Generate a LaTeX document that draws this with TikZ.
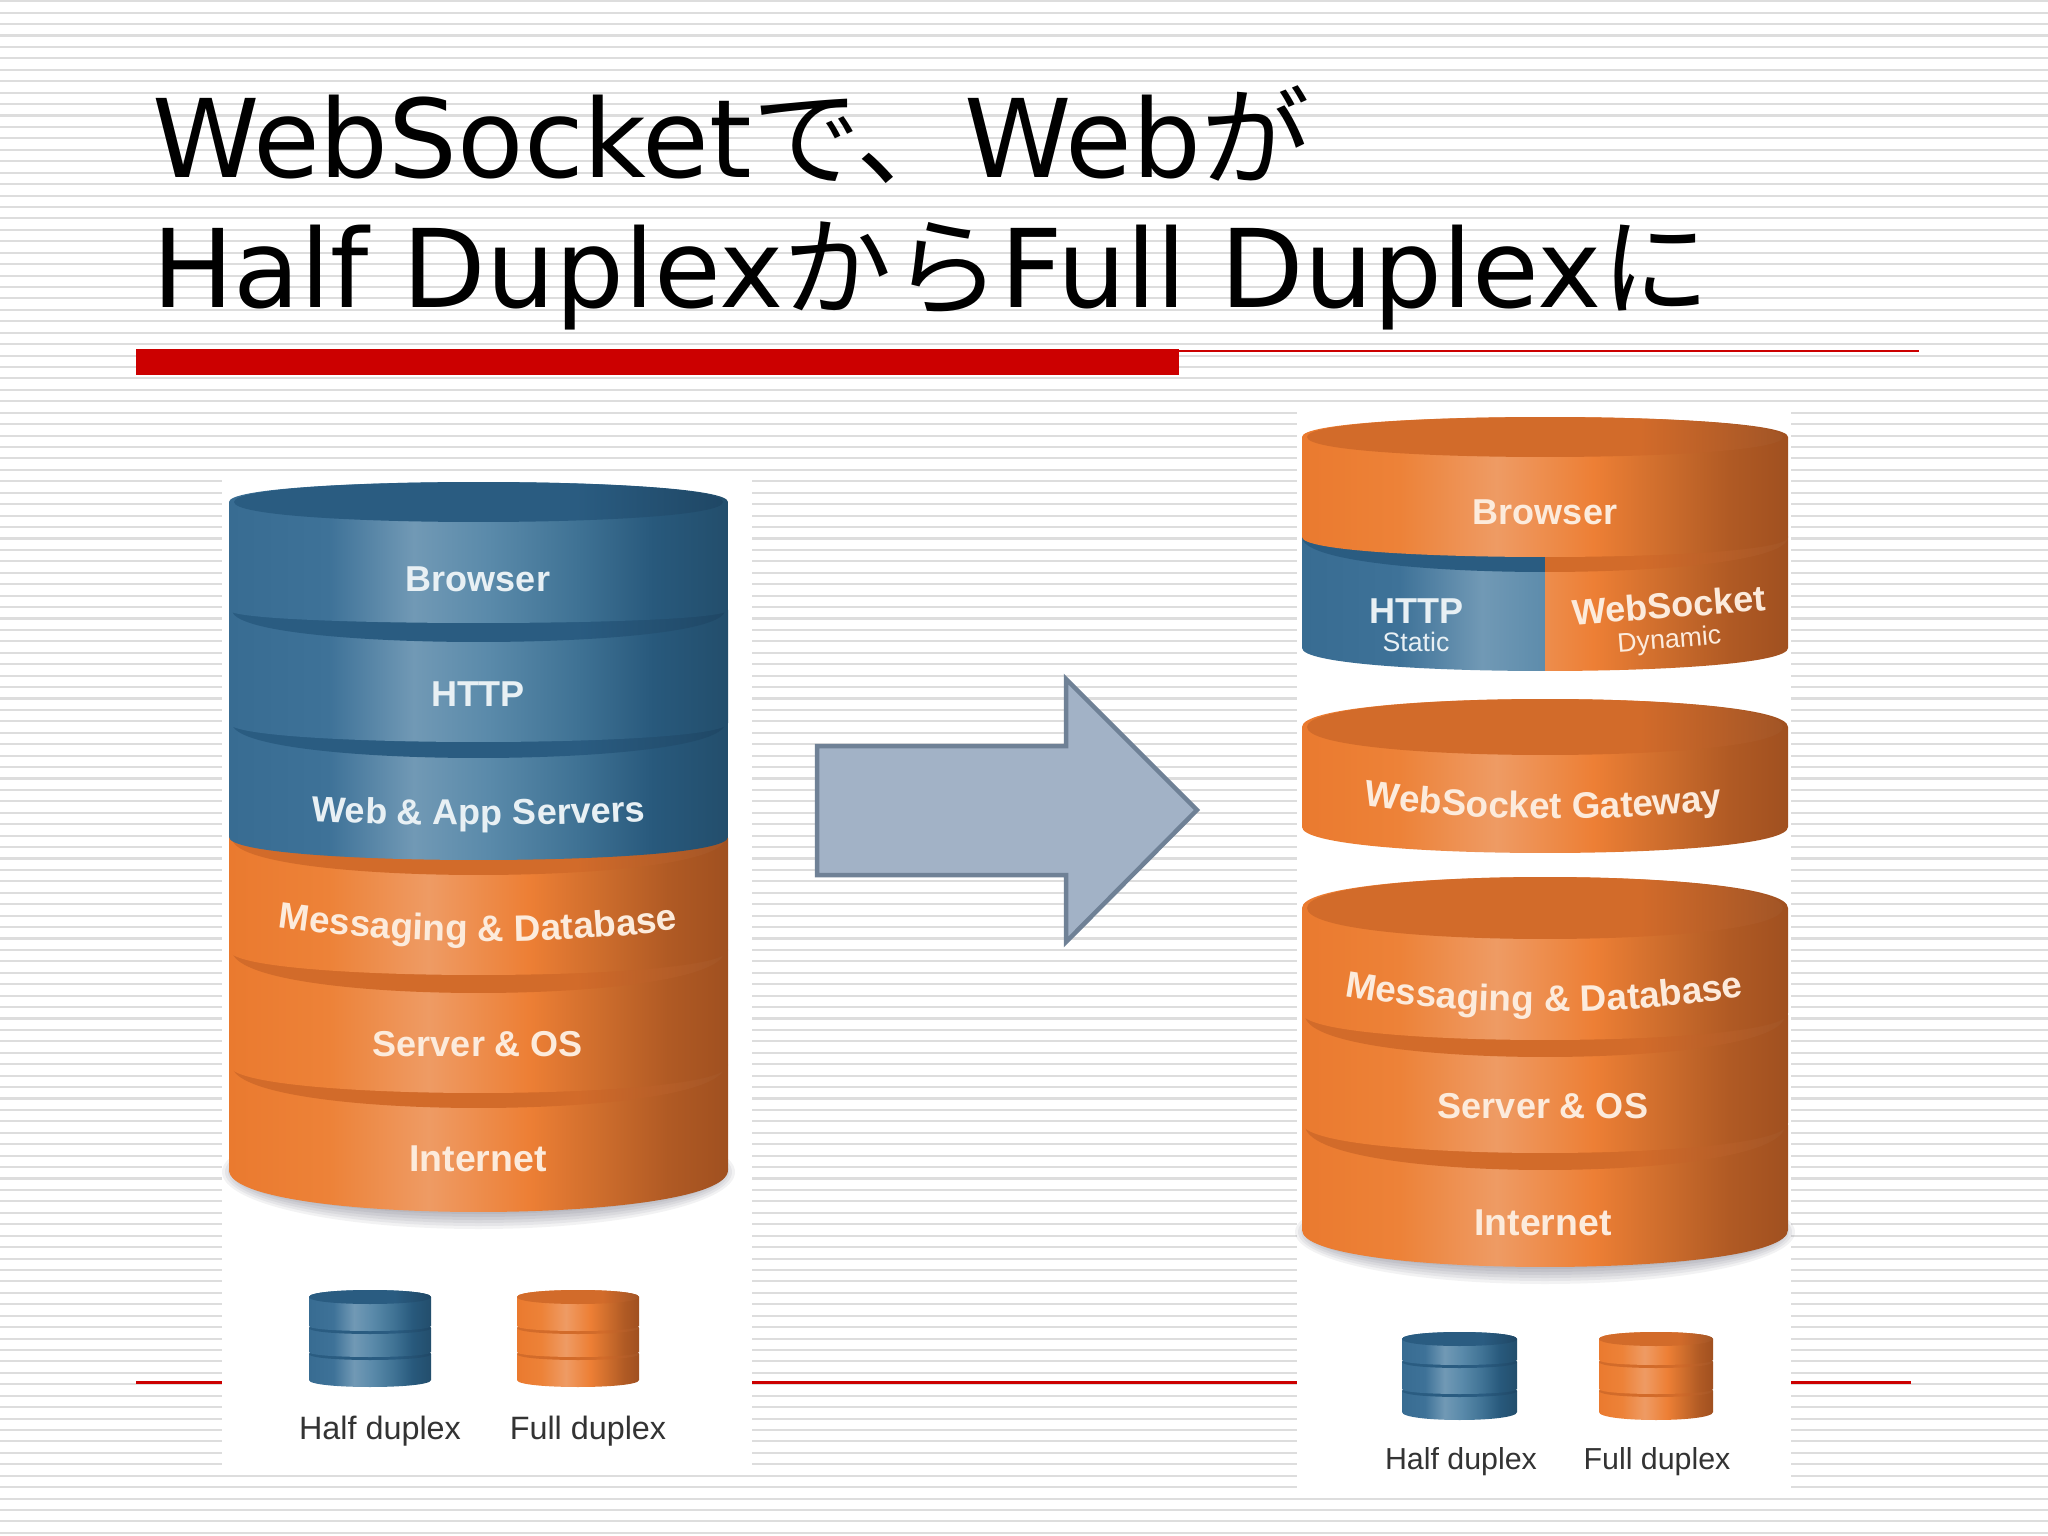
\documentclass[tikz,border=0pt]{standalone}
\usepackage{fontspec}
\setmainfont{DejaVu Sans}
\newfontfamily\cjk{Noto Sans CJK JP}
\newfontfamily\lib{Liberation Sans}
\usetikzlibrary{decorations.text}
\definecolor{stripe}{HTML}{DDDDDD}
\definecolor{redbar}{HTML}{CC0000}
\definecolor{arrowfill}{HTML}{A2B2C6}
\definecolor{arrowline}{HTML}{6F8196}
\definecolor{txtB}{HTML}{E8F0F4}
\definecolor{txtO}{HTML}{FCEBDC}
\definecolor{b0}{HTML}{386C92}\definecolor{b1}{HTML}{3E7298}\definecolor{b2}{HTML}{7199B5}
\definecolor{b3}{HTML}{5A8AAA}\definecolor{b4}{HTML}{3F7294}\definecolor{b5}{HTML}{28597C}\definecolor{b6}{HTML}{234E6C}
\definecolor{o0}{HTML}{EA7A2F}\definecolor{o1}{HTML}{ED8238}\definecolor{o2}{HTML}{EE9B64}
\definecolor{o3}{HTML}{ED7F35}\definecolor{o4}{HTML}{CC6C2C}\definecolor{o5}{HTML}{B05A24}\definecolor{o6}{HTML}{A05020}
\pgfdeclarehorizontalshading{bluecyl}{100bp}{color(0bp)=(b0);color(25bp)=(b0);color(35bp)=(b1);color(43.5bp)=(b2);color(51bp)=(b3);color(60bp)=(b4);color(67.5bp)=(b5);color(75bp)=(b6);color(100bp)=(b6)}
\pgfdeclarehorizontalshading{orangecyl}{100bp}{color(0bp)=(o0);color(25bp)=(o0);color(35bp)=(o1);color(45bp)=(o2);color(55bp)=(o3);color(62.5bp)=(o4);color(69bp)=(o5);color(75bp)=(o6);color(100bp)=(o6)}
\definecolor{tb0}{HTML}{2A5C81}\definecolor{tb1}{HTML}{1F4765}
\definecolor{to0}{HTML}{D26B2A}\definecolor{to1}{HTML}{A25526}
\pgfdeclarehorizontalshading{bluetop}{100bp}{color(0bp)=(tb0);color(60bp)=(tb0);color(75bp)=(tb1);color(100bp)=(tb1)}
\pgfdeclarehorizontalshading{orangetop}{100bp}{color(0bp)=(to0);color(60bp)=(to0);color(75bp)=(to1);color(100bp)=(to1)}
% #1 xl, #2 xr, #3 yt, #4 rt, #5 yb, #6 rb, #7 blue/orange, #8 rim inset
\newcommand\cyl[8]{%
  \shade[shading=#7cyl] ({#1},{#3}) -- ({#1},{#5})
    .. controls ({#1},{#5+1.333*#6}) and ({#2},{#5+1.333*#6}) .. ({#2},{#5})
    -- ({#2},{#3})
    .. controls ({#2},{#3-1.333*#4}) and ({#1},{#3-1.333*#4}) .. ({#1},{#3}) -- cycle;
  \shade[shading=#7top] ({#1+#8},{#3})
    .. controls ({#1+#8},{#3+1.333*#4}) and ({#2-#8},{#3+1.333*#4}) .. ({#2-#8},{#3})
    .. controls ({#2-#8},{#3-1.333*#4}) and ({#1+#8},{#3-1.333*#4}) .. ({#1+#8},{#3}) -- cycle;
}
\newcommand\cylshadow[4]{% xl xr y ry
  \foreach \k in {0,3,...,15}{
    \fill[black!88!blue,opacity=.05] ({(#1+#2)/2},{#3}) ellipse [x radius={(#2-#1)/2+\k-8},y radius={#4+\k}];
  }
}
\newcommand\bandfont{\lib\bfseries\fontsize{25.6pt}{30pt}\selectfont}
\newcommand\arcfont{\lib\bfseries\fontsize{26.2pt}{30pt}\selectfont}
\newcommand\netfont{\lib\bfseries\fontsize{26.6pt}{30pt}\selectfont}
\newcommand\smallband{\lib\fontsize{19pt}{22pt}\selectfont}
\tikzset{
  title/.style={anchor=base west,inner sep=0pt,outer sep=0pt,font=\fontsize{77.2pt}{90pt}\selectfont,text=black},
  lblB/.style={anchor=base,inner sep=0pt,font=\bandfont,text=txtB},
  lblO/.style={anchor=base,inner sep=0pt,font=\bandfont,text=txtO},
  subB/.style={anchor=base,inner sep=0pt,font=\smallband,text=txtB},
  subO/.style={anchor=base,inner sep=0pt,font=\smallband,text=txtO},
  legend/.style={anchor=base,inner sep=0pt,text=black!80},
  panel/.style={fill=white,draw=none},
  arcO/.style={decorate,decoration={text along path,text align=center,text={|\arcfont\color{txtO}|#1}}},
  arcB/.style={decorate,decoration={text along path,text align=center,text={|\bandfont\color{txtB}|#1}}},
}
\begin{document}
\begin{tikzpicture}[x=0.025cm,y=-0.025cm]
\useasboundingbox (0,0) rectangle (2048,1536);
\fill[white] (0,0) rectangle (2048,1536);
% stripes
\foreach \i in {0,...,134}{
  \fill[stripe] (0,{0.2+11.43*\i}) rectangle (2048,{2.3+11.43*\i});
}
% title rules
\fill[redbar] (136,349) rectangle (1179,375);
\fill[redbar] (1179,350) rectangle (1919,352);
\fill[redbar] (136,1380.5) rectangle (1911,1383.5);
% panels
\fill[panel] (222,477) rectangle (752,1470);
\fill[panel] (1297,410) rectangle (1791,1497);
% title
\node[title] (t1) at (152,178) {WebSocket{\cjk で、}Web{\cjk が}};
\node[title] (t2) at (152,308) {Half Duplex{\cjk から}Full Duplex{\cjk に}};
% arrow
\draw[fill=arrowfill,draw=arrowline,line width=3.2pt,miter limit=10]
  (817,746) -- (1066,746) -- (1066,679) -- (1197,810) -- (1066,942) -- (1066,875) -- (817,875) -- cycle;
% left stack
\cylshadow{229}{728}{1172}{42}
\cyl{229}{728}{1065}{43}{1170}{42}{orange}{3}
\cyl{229}{728}{950}{43}{1065}{28}{orange}{3}
\cyl{229}{728}{838}{37}{950}{25}{orange}{3}
\cyl{229}{728}{723}{35}{837}{23}{blue}{3}
\cyl{229}{728}{610}{32}{723}{19}{blue}{3}
\cyl{229}{728}{502}{20}{610}{13}{blue}{5}
\node[lblB] (lbrowser) at (478,591) {Browser};
\node[lblB] (lhttp) at (478,706) {HTTP};
\path[arcB={Web {\&} App Servers}] (280,819) .. controls (390,827) and (570,827) .. (676,819);
\path[arcO={Messaging {\&} Database}] (250,923) .. controls (380,947) and (580,947) .. (706,925);
\node[lblO] (lserver) at (478,1056) {Server \& OS};
\node[lblO,font=\netfont] (linternet) at (478,1171) {Internet};
% left legend
\cyl{309}{431}{1354}{6}{1380}{7}{blue}{0}
\cyl{309}{431}{1328}{6}{1352}{5}{blue}{0}
\cyl{309}{431}{1297}{7}{1326}{5}{blue}{0}
\cyl{517}{639}{1354}{6}{1380}{7}{orange}{0}
\cyl{517}{639}{1328}{6}{1352}{5}{orange}{0}
\cyl{517}{639}{1297}{7}{1326}{5}{orange}{0}
\node[legend,font=\lib\fontsize{23pt}{26pt}\selectfont] (lhalf) at (380,1439) {Half duplex};
\node[legend,font=\lib\fontsize{23pt}{26pt}\selectfont] (lfull) at (588,1439) {Full duplex};
% right lower stack
\cylshadow{1302}{1788}{1232}{37}
\cyl{1302}{1788}{1125}{45}{1230}{37}{orange}{3}
\cyl{1302}{1788}{1015}{42}{1123}{30}{orange}{3}
\cyl{1302}{1788}{908}{31}{1013}{27}{orange}{5}
\path[arcO={Messaging {\&} Database}] (1315,990) .. controls (1440,1019) and (1650,1019) .. (1773,990);
\node[lblO] (rserver) at (1543,1118) {Server \& OS};
\node[lblO,font=\netfont] (rinternet) at (1543,1235) {Internet};
% gateway
\cyl{1302}{1788}{727}{28}{827}{26}{orange}{5}
\path[arcO={WebSocket Gateway}] (1335,801) .. controls (1460,824) and (1640,824) .. (1752,804);
% http / websocket split disc
\begin{scope}
  \clip (1290,500) rectangle (1545,700);
  \cyl{1302}{1788}{537}{35}{648}{23}{blue}{0}
\end{scope}
\begin{scope}
  \clip (1545,500) rectangle (1800,700);
  \cyl{1302}{1788}{537}{35}{648}{23}{orange}{0}
\end{scope}
\cyl{1302}{1788}{437}{20}{537}{20}{orange}{5}
\node[lblO] (rbrowser) at (1545,525) {Browser};
\node[lblB] (rhttp) at (1416,623) {HTTP};
\node[subB] (rstatic) at (1416,651) {Static};
\node[lblO,rotate=4.5] (rws) at (1670,618) {WebSocket};
\node[subO,rotate=4.5] (rdyn) at (1670,648) {Dynamic};
% right legend
\cyl{1402}{1517}{1391}{6}{1412}{8}{blue}{0}
\cyl{1402}{1517}{1362}{6}{1389}{5}{blue}{0}
\cyl{1402}{1517}{1339}{7}{1360}{5}{blue}{0}
\cyl{1599}{1713}{1391}{6}{1412}{8}{orange}{0}
\cyl{1599}{1713}{1362}{6}{1389}{5}{orange}{0}
\cyl{1599}{1713}{1339}{7}{1360}{5}{orange}{0}
\node[legend,font=\lib\fontsize{21.6pt}{25pt}\selectfont] (rhalf) at (1461,1469) {Half duplex};
\node[legend,font=\lib\fontsize{21.6pt}{25pt}\selectfont] (rfull) at (1657,1469) {Full duplex};
\end{tikzpicture}
\end{document}
